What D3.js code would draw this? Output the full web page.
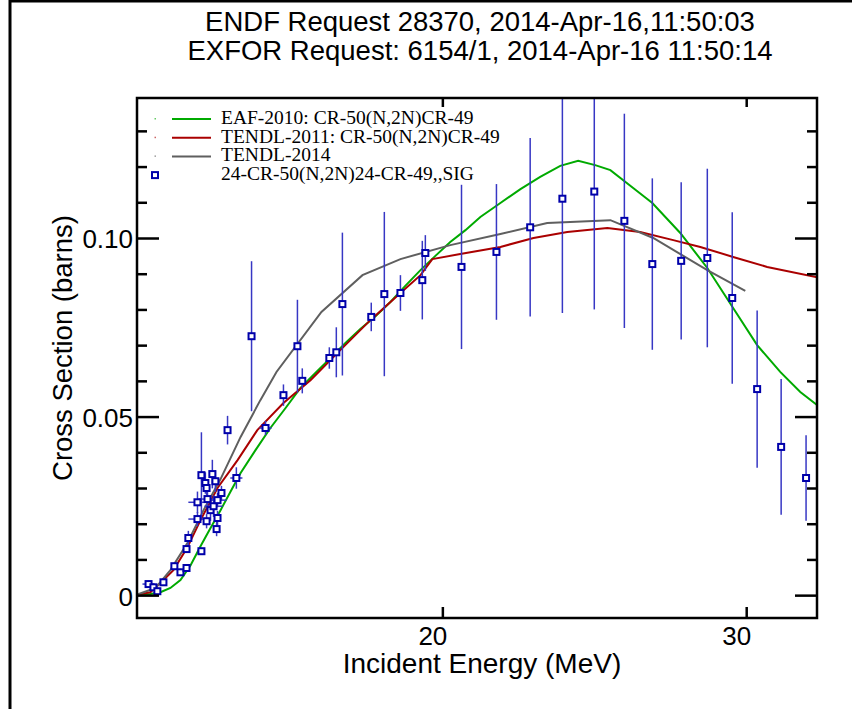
<!DOCTYPE html>
<html>
<head>
<meta charset="utf-8">
<script src="https://cdn.jsdelivr.net/npm/d3@7"></script>
<style>
  body { margin: 0; background: #fff; }
  text { font-family: "Liberation Sans", Arial, sans-serif; }
  text.legend { font-family: "Liberation Serif", "Times New Roman", serif; }
</style>
</head>
<body>
<div id="chart"></div>
<script>
// Evaluated curves (energy in MeV, cross section in barns)
const eafE   = [9.9, 10.39, 10.72, 11.05, 11.38, 11.71, 12.04, 12.37, 12.70, 13.03, 13.36, 13.85, 14.34, 14.84, 15.33, 15.82, 16.32, 16.81, 17.30, 17.80, 18.29, 18.78, 19.28, 19.77, 20.26, 20.76, 21.25, 21.91, 22.57, 23.22, 23.88, 24.47, 25.03, 25.53, 26.28, 26.91, 27.83, 28.72, 29.57, 30.36, 31.12, 31.78, 32.4];
const eafSig = [0, 0.0003, 0.0008, 0.002, 0.0042, 0.0083, 0.0137, 0.0188, 0.0238, 0.0290, 0.0342, 0.0406, 0.0468, 0.0524, 0.0580, 0.0622, 0.0664, 0.0706, 0.0745, 0.0781, 0.0821, 0.0866, 0.0910, 0.0950, 0.0989, 0.1022, 0.1059, 0.1098, 0.1137, 0.1171, 0.1202, 0.1216, 0.1204, 0.1190, 0.1140, 0.1098, 0.1014, 0.0916, 0.0804, 0.0700, 0.0625, 0.0569, 0.0528];

const t11E   = [9.9, 10.39, 10.82, 11.15, 11.61, 12.04, 12.60, 13.26, 13.91, 14.77, 15.66, 16.64, 17.63, 18.62, 19.28, 19.67, 20.59, 21.91, 23.00, 24.11, 25.43, 26.51, 27.60, 28.49, 29.57, 30.69, 32.4];
const t11Sig = [0, 0.0008, 0.0042, 0.0070, 0.0134, 0.0210, 0.0300, 0.0378, 0.0462, 0.0538, 0.0602, 0.0686, 0.0770, 0.0846, 0.0896, 0.0941, 0.0955, 0.0975, 0.1000, 0.1017, 0.1028, 0.1017, 0.0994, 0.0975, 0.0947, 0.0919, 0.0889];

const t14E   = [9.9, 10.56, 11.05, 11.61, 12.14, 12.70, 13.36, 14.01, 14.54, 16.02, 17.37, 18.62, 20.26, 21.91, 23.45, 25.53, 26.94, 28.72, 29.97];
const t14Sig = [0, 0.0020, 0.0070, 0.0146, 0.0238, 0.0325, 0.0443, 0.0546, 0.0625, 0.0793, 0.0896, 0.0941, 0.0980, 0.1011, 0.1042, 0.1050, 0.1000, 0.0910, 0.0852];

// EXFOR 6154/1 measurements
const expE   = [10.33, 10.49, 10.62, 10.82, 11.18, 11.38, 11.58, 11.58, 11.64, 11.94, 11.94, 12.07, 12.07, 12.20, 12.24, 12.24, 12.27, 12.37, 12.43, 12.47, 12.53, 12.57, 12.60, 12.60, 12.73, 12.93, 13.22, 13.72, 14.18, 14.77, 15.23, 15.39, 16.28, 16.51, 16.71, 17.66, 18.09, 18.62, 19.34, 19.44, 20.63, 21.78, 22.89, 23.95, 25.00, 25.99, 26.91, 27.86, 28.72, 29.54, 30.36, 31.15, 31.97];
const expSig = [0.0031, 0.0022, 0.0011, 0.0036, 0.0081, 0.0064, 0.0076, 0.0129, 0.0160, 0.0213, 0.0260, 0.0123, 0.0336, 0.0314, 0.0300, 0.0207, 0.0269, 0.0238, 0.0339, 0.0249, 0.0319, 0.0185, 0.0216, 0.0266, 0.0286, 0.0462, 0.0328, 0.0725, 0.0468, 0.0560, 0.0697, 0.0600, 0.0664, 0.0680, 0.0815, 0.0779, 0.0843, 0.0846, 0.0882, 0.0958, 0.0919, 0.0961, 0.1030, 0.1110, 0.1130, 0.1048, 0.0927, 0.0936, 0.0944, 0.0832, 0.0577, 0.0415, 0.0328];
const expDSig = [0.001, 0.001, 0.001, 0.001, 0.001, 0.001, 0.001, 0.001, 0.002, 0.002, 0.003, 0.001, 0.012, 0.003, 0.002, 0.002, 0.003, 0.003, 0.004, 0.003, 0.003, 0.002, 0.002, 0.002, 0.002, 0.004, 0.003, 0.021, 0.002, 0.003, 0.013, 0.0035, 0.003, 0.007, 0.020, 0.004, 0.023, 0.005, 0.011, 0.005, 0.023, 0.019, 0.025, 0.032, 0.033, 0.030, 0.024, 0.022, 0.025, 0.024, 0.022, 0.019, 0.012];
const expDE  = [0.2, 0, 0, 0, 0, 0, 0, 0, 0, 0.3, 0.3, 0, 0, 0, 0, 0, 0.3, 0, 0, 0.3, 0, 0, 0, 0.3, 0, 0, 0.2, 0, 0.2, 0, 0, 0, 0, 0, 0, 0, 0, 0, 0, 0, 0, 0, 0, 0, 0, 0, 0, 0, 0, 0, 0, 0, 0];

const titleLines = ["ENDF Request 28370, 2014-Apr-16,11:50:03", "EXFOR Request: 6154/1, 2014-Apr-16 11:50:14"];
const legendLabels = ["EAF-2010: CR-50(N,2N)CR-49", "TENDL-2011: CR-50(N,2N)CR-49", "TENDL-2014", "24-CR-50(N,2N)24-CR-49,,SIG"];
const xTicks = [20, 30];
const yMajor = [0, 0.05, 0.10];

const curveColors = ["#00aa00", "#aa0000", "#5f5f5f"];
const dataColor = "#0000aa";
const barColor = "#3737c4";

const margin = {top: 98, right: 35, bottom: 91, left: 137};
const width = 852 - margin.left - margin.right;
const height = 709 - margin.top - margin.bottom;

const root = d3.select("#chart").append("svg")
    .attr("width", 852)
    .attr("height", 709);

// page frame
root.append("line").attr("x1", 10).attr("x2", 10).attr("y1", 0).attr("y2", 709)
    .attr("stroke", "#000").attr("stroke-width", 3);
root.append("line").attr("x1", 10).attr("x2", 852).attr("y1", 1).attr("y2", 1)
    .attr("stroke", "#000").attr("stroke-width", 3);

// title
titleLines.forEach((t, i) => {
  root.append("text")
      .attr("x", 480)
      .attr("y", 31 + i * 29)
      .attr("text-anchor", "middle")
      .attr("font-size", 27.5)
      .text(t);
});

const svg = root.append("g")
    .attr("transform", `translate(${margin.left},${margin.top})`);

const x = d3.scaleLinear().domain([9.95, 32.33]).range([0, width]);
const y = d3.scaleLinear().domain([-0.0064, 0.1392]).range([height, 0]);

svg.append("clipPath").attr("id", "plotclip")
  .append("rect").attr("width", width).attr("height", height);

const plot = svg.append("g").attr("clip-path", "url(#plotclip)");

// curves
const line = d3.line().x(d => x(d[0])).y(d => y(d[1]));
const curves = [[eafE, eafSig], [t11E, t11Sig], [t14E, t14Sig]];
curves.forEach((c, i) => {
  plot.append("path")
      .datum(c[0].map((e, j) => [e, c[1][j]]))
      .attr("fill", "none")
      .attr("stroke", curveColors[i])
      .attr("stroke-width", 2)
      .attr("d", line);
});

// experimental points with error bars
const pts = expE.map((e, i) => ({e, s: expSig[i], ds: expDSig[i], de: expDE[i]}));

plot.selectAll(".ebar")
  .data(pts)
  .enter().append("line")
    .attr("x1", d => x(d.e)).attr("x2", d => x(d.e))
    .attr("y1", d => y(d.s - d.ds)).attr("y2", d => y(d.s + d.ds))
    .attr("stroke", barColor).attr("stroke-width", 1.5);

plot.selectAll(".hbar")
  .data(pts.filter(d => d.de > 0))
  .enter().append("line")
    .attr("x1", d => x(d.e - d.de)).attr("x2", d => x(d.e + d.de))
    .attr("y1", d => y(d.s)).attr("y2", d => y(d.s))
    .attr("stroke", barColor).attr("stroke-width", 1.5);

plot.selectAll(".pt")
  .data(pts)
  .enter().append("rect")
    .attr("x", d => x(d.e) - 3)
    .attr("y", d => y(d.s) - 3)
    .attr("width", 6).attr("height", 6)
    .attr("fill", "#fff")
    .attr("stroke", dataColor)
    .attr("stroke-width", 2);

// axes, ticks pointing inward
const yMinor = d3.range(0, 0.135, 0.01).filter(v => !yMajor.some(m => Math.abs(m - v) < 1e-6));

const yLeft = svg.append("g")
    .call(d3.axisLeft(y).tickValues(yMajor).tickSize(-22).tickPadding(4)
      .tickFormat(d => d === 0 ? "0" : d3.format(".2f")(d)));
yLeft.selectAll("text").attr("font-size", 26).attr("dy", "0.38em").attr("fill", "#000");

svg.append("g")
    .call(d3.axisLeft(y).tickValues(yMinor).tickSize(-10).tickFormat(""));

svg.append("g")
    .attr("transform", `translate(${width},0)`)
    .call(d3.axisRight(y).tickValues(yMajor).tickSize(-22).tickFormat(""));
svg.append("g")
    .attr("transform", `translate(${width},0)`)
    .call(d3.axisRight(y).tickValues(yMinor).tickSize(-10).tickFormat(""));

const xBottom = svg.append("g")
    .attr("transform", `translate(0,${height})`)
    .call(d3.axisBottom(x).tickValues(xTicks).tickSize(-11).tickPadding(8));
xBottom.selectAll("text").attr("font-size", 26).attr("dx", -10).attr("dy", "0.72em").attr("fill", "#000");

svg.append("g")
    .call(d3.axisTop(x).tickValues(xTicks).tickSize(-9).tickFormat(""));

svg.selectAll(".domain").remove();
svg.selectAll(".tick line").attr("stroke", "#000").attr("stroke-width", 2.5);

svg.append("rect")
    .attr("width", width).attr("height", height)
    .attr("fill", "none").attr("stroke", "#000").attr("stroke-width", 2.5);

// axis labels
svg.append("text")
    .attr("x", 345)
    .attr("y", height + 55)
    .attr("text-anchor", "middle")
    .attr("font-size", 28)
    .text("Incident Energy (MeV)");

svg.append("text")
    .attr("transform", "rotate(-90)")
    .attr("x", -250)
    .attr("y", -65)
    .attr("text-anchor", "middle")
    .attr("font-size", 27.5)
    .text("Cross Section (barns)");

// legend
const legend = svg.append("g").attr("transform", "translate(18,26)");
legendLabels.forEach((lab, i) => {
  const ly = i * 18.7;
  if (i < 3) {
    legend.append("rect")
        .attr("x", -0.5).attr("y", ly - 6).attr("width", 1.5).attr("height", 1.5)
        .attr("fill", curveColors[i]).attr("opacity", 0.6);
    legend.append("line")
        .attr("x1", 17).attr("x2", 56)
        .attr("y1", ly - 5).attr("y2", ly - 5)
        .attr("stroke", curveColors[i]).attr("stroke-width", 2);
  } else {
    legend.append("rect")
        .attr("x", -3).attr("y", ly - 8).attr("width", 6).attr("height", 6)
        .attr("fill", "#fff").attr("stroke", dataColor).attr("stroke-width", 2);
  }
  legend.append("text")
      .attr("class", "legend")
      .attr("x", 66)
      .attr("y", ly)
      .attr("font-size", 19.5)
      .text(lab);
});
</script>
</body>
</html>
